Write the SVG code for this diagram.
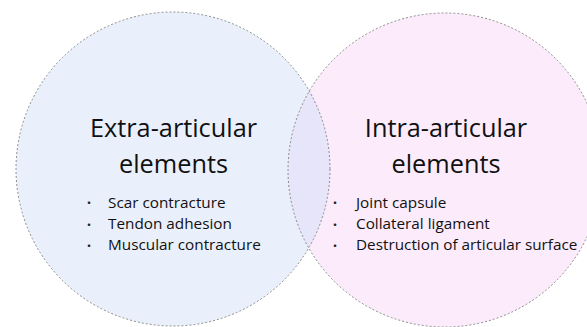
<svg xmlns="http://www.w3.org/2000/svg" width="587" height="327" viewBox="0 0 587 327">
<style>
.c{stroke:#8a8a8a;stroke-width:1;stroke-dasharray:2 2;}
.t{font-family:"Open Sans","Liberation Sans",sans-serif;font-size:25.3px;fill:#111;text-anchor:middle;}
.b{font-family:"Open Sans","Liberation Sans",sans-serif;font-size:15.3px;fill:#111;}
.d{font-family:"Noto Sans CJK JP",sans-serif;font-size:12px;fill:#222;}
</style>
<defs>
<clipPath id="clipL"><circle cx="173" cy="169" r="157"/></clipPath>
</defs>
<rect width="587" height="327" fill="#fff"/>
<g id="extra">
<circle cx="173" cy="169" r="157" fill="#eaf0fb"/>
</g>
<g id="intra">
<circle cx="445" cy="170" r="157" fill="#fbebfb"/>
</g>
<g id="overlap">
<circle cx="445" cy="170" r="157" fill="#e6e5fa" clip-path="url(#clipL)"/>
</g>
<g id="outlines" fill="none">
<circle class="c" cx="173" cy="169" r="157"/>
<circle class="c" cx="445" cy="170" r="157"/>
</g>
<g id="extra-text">
<text class="t" x="173.5" y="137">Extra-articular</text>
<text class="t" x="173.5" y="173">elements</text>
<text class="d" x="83" y="208">・</text>
<text class="d" x="83" y="230">・</text>
<text class="d" x="83" y="251">・</text>
<text class="b" x="108" y="208">Scar contracture</text>
<text class="b" x="108" y="229">Tendon adhesion</text>
<text class="b" x="108" y="250">Muscular contracture</text>
</g>
<g id="intra-text">
<text class="t" x="446" y="137">Intra-articular</text>
<text class="t" x="446" y="173">elements</text>
<text class="d" x="329" y="208">・</text>
<text class="d" x="329" y="230">・</text>
<text class="d" x="329" y="251">・</text>
<text class="b" x="356" y="208">Joint capsule</text>
<text class="b" x="356" y="229">Collateral ligament</text>
<text class="b" x="356" y="250">Destruction of articular surface</text>
</g>
</svg>
